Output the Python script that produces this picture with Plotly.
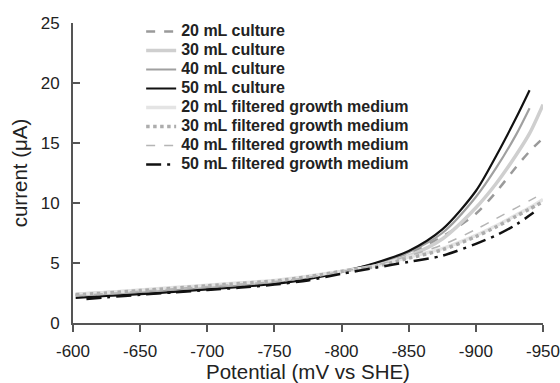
import plotly.graph_objects as go

# Potential (mV vs SHE)
V_culture = [-602, -625, -650, -675, -700, -725, -750, -775, -800, -825, -850, -875, -900, -915, -930, -940, -950]
V_filtered = [-602, -625, -650, -675, -700, -725, -750, -775, -800, -825, -850, -875, -900, -915, -930, -940, -950]
V_black_dd = [-610, -625, -650, -675, -700, -725, -750, -775, -800, -825, -850, -875, -900, -915, -930, -943]

# Currents (uA)
c20 = [2.35, 2.5, 2.65, 2.85, 3.05, 3.25, 3.5, 3.85, 4.3, 4.9, 5.8, 7.2, 9.1, 10.9, 13.0, 14.3, 15.4]
c30 = [2.4, 2.55, 2.7, 2.9, 3.1, 3.3, 3.5, 3.85, 4.3, 4.85, 5.6, 7.0, 9.6, 11.6, 14.0, 15.8, 18.2]
c40 = [2.3, 2.45, 2.6, 2.8, 3.0, 3.2, 3.45, 3.8, 4.3, 4.95, 5.9, 7.5, 10.5, 12.9, 15.7, 17.9]
c50 = [2.1, 2.25, 2.4, 2.6, 2.8, 3.0, 3.25, 3.65, 4.25, 5.0, 6.0, 7.8, 11.0, 13.9, 17.1, 19.4]
f20 = [2.4, 2.55, 2.75, 2.95, 3.15, 3.35, 3.55, 3.9, 4.3, 4.75, 5.5, 6.2, 7.3, 8.1, 9.0, 9.6, 10.3]
f30 = [2.35, 2.5, 2.7, 2.9, 3.1, 3.3, 3.5, 3.85, 4.3, 4.7, 5.4, 6.1, 7.2, 8.0, 8.9, 9.5, 10.1]
f40 = [2.3, 2.45, 2.65, 2.85, 3.05, 3.25, 3.45, 3.8, 4.3, 4.8, 5.6, 6.5, 7.8, 8.7, 9.6, 10.2, 10.8]
f50 = [2.0, 2.15, 2.35, 2.55, 2.75, 2.95, 3.2, 3.55, 4.1, 4.6, 5.1, 5.6, 6.6, 7.3, 8.2, 9.2]

names = [
    "20 mL culture", "30 mL culture", "40 mL culture", "50 mL culture",
    "20 mL filtered growth medium", "30 mL filtered growth medium",
    "40 mL filtered growth medium", "50 mL filtered growth medium",
]

x_ticks = [-600, -650, -700, -750, -800, -850, -900, -950]
x_ticklabels = ["-600", "-650", "-700", "-750", "-800", "-850", "-900", "-950"]
y_ticks = [0, 5, 10, 15, 20, 25]

series = [
    (V_culture, c20, dict(color="#9a9a9a", width=2.5, dash="dash")),
    (V_culture, c30, dict(color="#cfcfcf", width=3.5, dash="solid")),
    (V_culture[:16], c40, dict(color="#a0a0a0", width=2.2, dash="solid")),
    (V_culture[:16], c50, dict(color="#111111", width=2.2, dash="solid")),
    (V_filtered, f20, dict(color="#e4e4e4", width=3.5, dash="solid")),
    (V_filtered, f30, dict(color="#adadad", width=3.5, dash="dot")),
    (V_filtered, f40, dict(color="#b5b5b5", width=1.5, dash="dash")),
    (V_black_dd, f50, dict(color="#111111", width=2.5, dash="longdashdot")),
]

fig = go.Figure()
for name, (x, y, line) in zip(names, series):
    fig.add_trace(go.Scatter(
        x=x, y=y, mode="lines",
        name='<span style="font-size:16px">' + name + '</span>',
        line=dict(shape="spline", smoothing=0.8, **line)))

fig.update_layout(
    width=560, height=383,
    margin=dict(l=73, r=17, t=23, b=60),
    paper_bgcolor="white", plot_bgcolor="white",
    font=dict(family="Liberation Sans, Arial, sans-serif", color="#222"),
    showlegend=True,
    legend=dict(x=0.145, y=1.02, xanchor="left", yanchor="top",
                bgcolor="rgba(0,0,0,0)", tracegroupgap=0,
                font=dict(size=12, family="Liberation Sans, Arial, sans-serif",
                          color="#222", weight="bold")),
    xaxis=dict(range=[-600, -950], tickvals=x_ticks, ticktext=x_ticklabels,
               automargin=False, ticklabeloverflow="allow",
               showgrid=False, zeroline=False, showline=True, linecolor="#555", linewidth=1.8,
               ticks="outside", ticklen=7, tickcolor="#555", tickwidth=1.5,
               ticklabelstandoff=5,
               tickfont=dict(size=17, color="#222"),
               title=dict(text="Potential (mV vs SHE)", font=dict(size=20.5, color="#222"), standoff=4)),
    yaxis=dict(range=[0, 25], tickvals=y_ticks,
               automargin=False,
               showgrid=False, zeroline=False, showline=True, linecolor="#555", linewidth=1.8,
               ticks="inside", ticklen=7, tickcolor="#555", tickwidth=1.5,
               ticklabelstandoff=8,
               tickfont=dict(size=17, color="#222"),
               title=dict(text="current (μA)", font=dict(size=20.5, color="#222"), standoff=8)),
)

fig.write_html("out.html")
